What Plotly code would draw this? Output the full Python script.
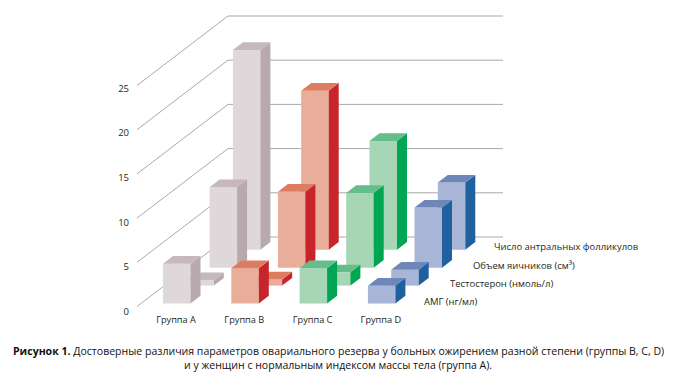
import plotly.graph_objects as go

groups = ["Группа A", "Группа B", "Группа C", "Группа D"]
series = ["АМГ (нг/мл)", "Тестостерон (нмоль/л)", "Объем яичников (см³)", "Число антральных фолликулов"]
amg = [4.5, 4.0, 4.0, 2.0]
testosterone = [0.6, 0.7, 1.5, 1.8]
volume = [9.1, 8.6, 8.45, 6.8]
follicles = [22.6, 18.0, 12.3, 7.6]
rows = [amg, testosterone, volume, follicles]
y_ticks = [0, 5, 10, 15, 20, 25]

front_colors = ["#DFD8DB", "#E8AE9A", "#A6D6B5", "#A9B5D6"]
side_colors = ["#B8A9AE", "#C8242B", "#00A651", "#1F619F"]
top_colors = ["#C6B8BD", "#DE7C62", "#63BE8A", "#6F87B8"]
GRID = "#A9A9A9"
TEXT = "#231F20"
FONT = "Open Sans"

W, H = 673, 375
GX, X0 = 68.3, 163.0      # px per group, px of group A
VY, Y0 = 8.84, 306.5      # px per unit, px of value 0
# oblique projection, in data units
ROW_DX = 23.3 / GX
ROW_DV = 17.9 / VY
BASE_V = 3.0 / VY
BAR_W = 27.5 / GX
DEPTH_DX = 10.0 / GX
DEPTH_DV = 7.7 / VY
WALL_FRONT = (137 - X0) / GX
WALL_BACK = (228 - X0) / GX
WALL_RIGHT = (503 - X0) / GX
WALL_DV = 69.5 / VY
# the labels sit slightly below the ends of the wall lines
LABEL_DROP = 0.57
LABEL_SCALE = 1.009

fig = go.Figure()


def poly(xs, ys, color):
    fig.add_trace(go.Scatter(x=xs + xs[:1], y=ys + ys[:1], mode="lines", fill="toself",
                             fillcolor=color, line=dict(width=0, color=color),
                             hoverinfo="skip", showlegend=False))


for v in y_ticks:
    fig.add_trace(go.Scatter(x=[WALL_FRONT, WALL_BACK, WALL_RIGHT], y=[v, v + WALL_DV, v + WALL_DV],
                             mode="lines", line=dict(color=GRID, width=1),
                             hoverinfo="skip", showlegend=False))

for r in range(3, -1, -1):
    for g, val in enumerate(rows[r]):
        x = g + r * ROW_DX
        b = BASE_V + r * ROW_DV
        t = b + val
        x2 = x + BAR_W
        poly([x, x2, x2, x], [b, b, t, t], front_colors[g])
        poly([x2, x2 + DEPTH_DX, x2 + DEPTH_DX, x2], [b, b + DEPTH_DV, t + DEPTH_DV, t], side_colors[g])
        poly([x, x2, x2 + DEPTH_DX, x + DEPTH_DX], [t, t, t + DEPTH_DV, t + DEPTH_DV], top_colors[g])

label_x = [422, 448, 470.5, 492]
label_y = [301.5, 283.5, 265, 246.5]
annotations = [
    dict(x=lx / W, y=1 - ly / H, xref="paper", yref="paper", text=s, showarrow=False,
         xanchor="left", yanchor="middle", font=dict(family=FONT, size=9.45, color=TEXT))
    for s, lx, ly in zip(series, label_x, label_y)
]
caption_1 = ("<b>Рисунок 1.</b> Достоверные различия параметров овариального резерва у больных ожирением "
             "разной степени (группы B, C, D)")
caption_2 = "и у женщин с нормальным индексом массы тела (группа A)."
for text, cy in [(caption_1, 351), (caption_2, 365)]:
    annotations.append(dict(x=338 / W, y=1 - cy / H, xref="paper", yref="paper", text=text, showarrow=False,
                            xanchor="center", yanchor="middle", font=dict(family=FONT, size=10.55, color="#111111")))

fig.update_layout(
    width=W, height=H, margin=dict(l=0, r=0, t=0, b=0), autosize=False,
    paper_bgcolor="white", plot_bgcolor="white", showlegend=False,
    font=dict(family=FONT, color=TEXT, size=10),
    annotations=annotations,
    xaxis=dict(range=[-X0 / GX, (W - X0) / GX], domain=[0, 1], showgrid=False, zeroline=False, showline=False,
               ticks="", tickmode="array", tickvals=[g + 0.19 for g in range(4)], ticktext=groups,
               anchor="free", position=1 - 313 / H, tickfont=dict(family=FONT, size=9.2, color=TEXT)),
    yaxis=dict(range=[(Y0 - H) / VY, Y0 / VY], domain=[0, 1], showgrid=False, zeroline=False, showline=False,
               ticks="", tickmode="array", tickvals=[v * LABEL_SCALE - LABEL_DROP for v in y_ticks],
               ticktext=[str(v) for v in y_ticks],
               anchor="free", position=129 / W, tickfont=dict(family=FONT, size=9.5, color=TEXT)),
)
fig.write_html("out.html", post_script="document.body.style.margin='0';", config={"displayModeBar": False})
